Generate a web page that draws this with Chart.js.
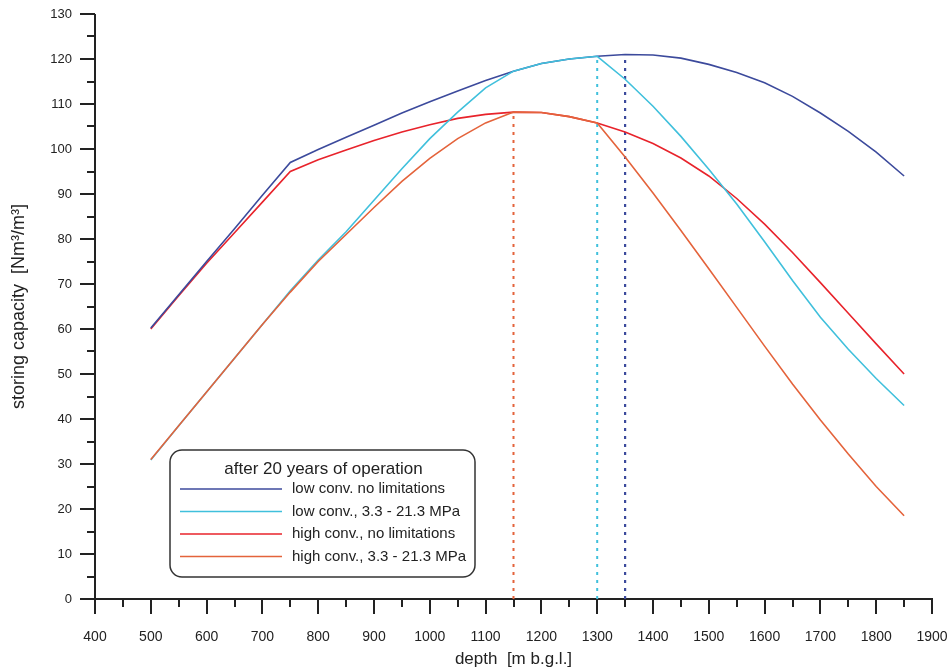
<!DOCTYPE html>
<html>
<head>
<meta charset="utf-8">
<script src="https://cdn.jsdelivr.net/npm/chart.js@4.4.1/dist/chart.umd.min.js"></script>
<style>
  html, body { margin: 0; padding: 0; background: #fff; }
</style>
</head>
<body>
<canvas id="canvas" width="951" height="671"></canvas>
<script>
// depth [m b.g.l.]
const depths = [500, 550, 600, 650, 700, 750, 800, 850, 900, 950, 1000, 1050, 1100, 1150,
  1200, 1250, 1300, 1350, 1400, 1450, 1500, 1550, 1600, 1650, 1700, 1750, 1800, 1850];

// storing capacity [Nm3/m3]
const lowNoLimits = [60.2, 67.6, 75.0, 82.3, 89.7, 97.0, 99.9, 102.6, 105.3, 108.0, 110.5, 112.9, 115.2, 117.3,
  119.0, 120.0, 120.6, 121.0, 120.9, 120.2, 118.8, 117.0, 114.7, 111.7, 108.0, 103.9, 99.3, 94.0];
const lowLimited = [30.9, 38.5, 46.0, 53.5, 61.0, 68.5, 75.3, 81.6, 88.6, 95.6, 102.3, 108.2, 113.6, 117.3,
  119.0, 120.0, 120.6, 115.5, 109.5, 102.8, 95.5, 87.8, 79.4, 70.8, 62.6, 55.5, 49.0, 43.0];
const highNoLimits = [60.0, 67.4, 74.6, 81.4, 88.2, 95.0, 97.6, 99.8, 101.9, 103.8, 105.4, 106.8, 107.7, 108.2,
  108.1, 107.2, 105.8, 103.8, 101.2, 98.0, 94.0, 89.0, 83.3, 77.0, 70.3, 63.5, 56.7, 50.0];
const highLimited = [31.0, 38.5, 46.0, 53.5, 61.0, 68.2, 75.0, 81.0, 87.0, 92.8, 97.9, 102.3, 105.8, 108.2,
  108.1, 107.2, 105.8, 98.2, 90.2, 81.9, 73.4, 64.8, 56.2, 47.8, 39.8, 32.2, 25.0, 18.5];

// optimum depth markers [depth, capacity]
const optHigh = [1150, 108.2];
const optLowLim = [1300, 120.6];
const optLow = [1350, 121.0];

const legendTitle = 'after 20 years of operation';
const labels = ['low conv. no limitations', 'low conv., 3.3 - 21.3 MPa',
  'high conv., no limitations', 'high conv., 3.3 - 21.3 MPa'];

const BLUE = '#3C4A9C', CYAN = '#40C0DC', RED = '#E8232B', ORANGE = '#E4633B';
const INK = '#222';
const SANS = "'Liberation Sans', Arial, sans-serif";

function pts(ys) { return depths.map((d, i) => ({ x: d, y: ys[i] })); }
function drop(p) { return [{ x: p[0], y: 0 }, { x: p[0], y: p[1] }]; }

function curve(label, ys, color, order) {
  return { label: label, data: pts(ys), borderColor: color, borderWidth: 1.6,
    pointRadius: 0, tension: 0, fill: false, order: order };
}
function marker(p, color, w) {
  return { label: '', data: drop(p), borderColor: color, borderWidth: w,
    borderDash: [3, 5], pointRadius: 0, fill: false, order: 5 };
}

function noPad(s) {
  s.paddingTop = 0; s.paddingBottom = 0; s.paddingLeft = 0; s.paddingRight = 0;
}

const axesPlugin = {
  id: 'axesPlugin',
  beforeDatasetsDraw(chart) {
    const ctx = chart.ctx, x = chart.scales.x, y = chart.scales.y;
    const x0 = x.getPixelForValue(400), x1 = x.getPixelForValue(1900);
    const y0 = y.getPixelForValue(0), y1 = y.getPixelForValue(130);
    ctx.save();
    ctx.strokeStyle = INK;
    ctx.lineWidth = 2;
    ctx.beginPath();
    ctx.moveTo(x0, y1); ctx.lineTo(x0, y0);
    ctx.moveTo(x0, y0); ctx.lineTo(x1 + 1, y0);
    for (let v = 0; v <= 130; v += 5) {
      const py = Math.round(y.getPixelForValue(v));
      const len = v % 10 === 0 ? 15 : 8;
      ctx.moveTo(x0 - len, py); ctx.lineTo(x0, py);
    }
    for (let v = 400; v <= 1900; v += 50) {
      const px = Math.round(x.getPixelForValue(v));
      const len = v % 100 === 0 ? 15 : 8;
      ctx.moveTo(px, y0); ctx.lineTo(px, y0 + len);
    }
    ctx.stroke();
    ctx.restore();
  },
  afterDatasetsDraw(chart) {
    const ctx = chart.ctx;
    const bx = 170, by = 450, bw = 305, bh = 127, r = 12;
    ctx.save();
    ctx.fillStyle = '#fff';
    ctx.strokeStyle = '#333';
    ctx.lineWidth = 1.5;
    ctx.beginPath();
    ctx.roundRect(bx, by, bw, bh, r);
    ctx.fill();
    ctx.stroke();
    ctx.fillStyle = INK;
    ctx.font = '17px ' + SANS;
    ctx.textAlign = 'center';
    ctx.textBaseline = 'middle';
    ctx.fillText(legendTitle, bx + bw / 2 + 1, by + 19);
    ctx.textAlign = 'left';
    ctx.font = '15px ' + SANS;
    const sets = chart.data.datasets.slice(0, 4);
    sets.forEach((ds, i) => {
      const ly = 489 + i * 22.5;
      ctx.strokeStyle = ds.borderColor;
      ctx.lineWidth = 1.6;
      ctx.beginPath();
      ctx.moveTo(180, ly); ctx.lineTo(282, ly);
      ctx.stroke();
      ctx.fillStyle = INK;
      ctx.fillText(ds.label, 292, ly);
    });
    ctx.restore();
  }
};

new Chart(document.getElementById('canvas'), {
  type: 'line',
  data: {
    datasets: [
      curve(labels[0], lowNoLimits, BLUE, 2),
      curve(labels[1], lowLimited, CYAN, 1),
      curve(labels[2], highNoLimits, RED, 3),
      curve(labels[3], highLimited, ORANGE, 0),
      marker(optHigh, ORANGE, 2),
      marker(optLowLim, CYAN, 2),
      marker(optLow, BLUE, 2.2)
    ]
  },
  options: {
    responsive: false,
    animation: false,
    layout: { padding: { top: 14, right: 19, left: 0, bottom: 0 } },
    plugins: { legend: { display: false }, tooltip: { enabled: false } },
    scales: {
      x: {
        type: 'linear', min: 400, max: 1900,
        grid: { display: false, drawTicks: false },
        border: { display: false },
        afterFit(s) { s.height = 72; noPad(s); },
        ticks: {
          stepSize: 50, autoSkip: false, maxRotation: 0, padding: 30,
          color: INK, font: { family: SANS, size: 14 },
          callback: v => (v % 100 === 0 ? String(v) : '')
        },
        title: {
          display: true, text: 'depth  [m b.g.l.]', color: INK,
          font: { family: SANS, size: 17 }, padding: { top: 0, bottom: 1 }
        }
      },
      y: {
        min: 0, max: 130,
        grid: { display: false, drawTicks: false },
        border: { display: false },
        afterFit(s) { s.width = 95; noPad(s); },
        ticks: { stepSize: 10, padding: 23, color: INK, font: { family: SANS, size: 13 } },
        title: {
          display: true, text: 'storing capacity  [Nm³/m³]', color: INK,
          font: { family: SANS, size: 18 }, padding: { top: 8, bottom: 0 }
        }
      }
    }
  },
  plugins: [axesPlugin]
});
</script>
</body>
</html>
